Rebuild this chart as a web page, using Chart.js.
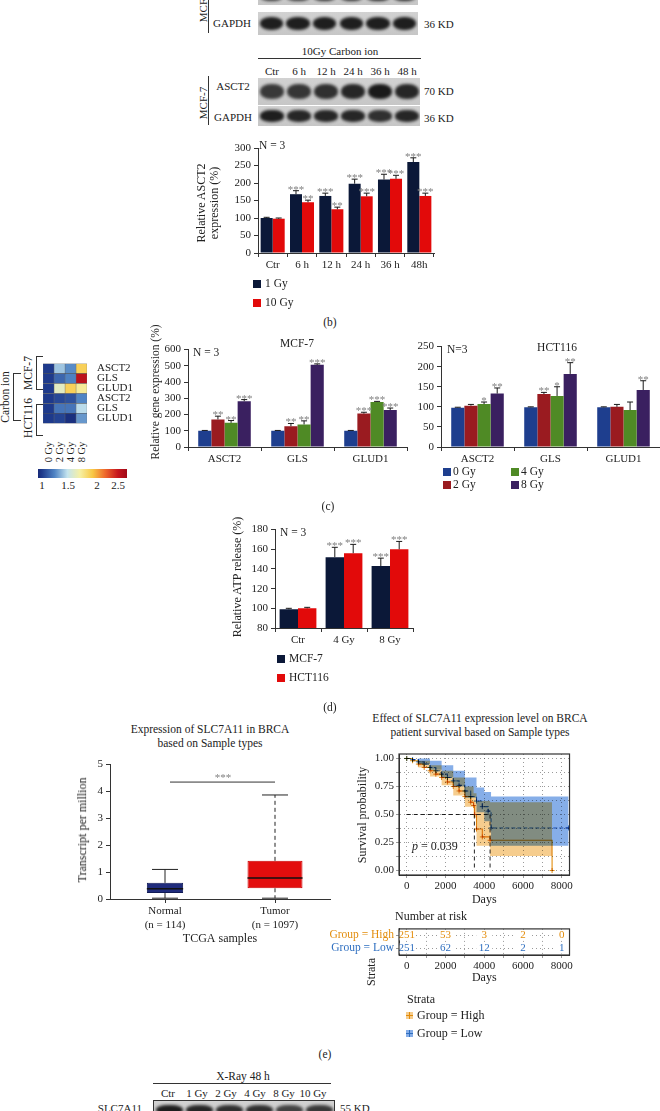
<!DOCTYPE html>
<html>
<head>
<meta charset="utf-8">
<title>Figure</title>
<script src="https://cdn.jsdelivr.net/npm/chart.js@4.4.1/dist/chart.umd.min.js"></script>
<style>
  html, body { margin: 0; padding: 0; background: #fff; }
  body { position: relative; width: 660px; height: 1111px; overflow: hidden;
         font-family: "Liberation Serif", "DejaVu Serif", serif; color: #222; }
  canvas { position: absolute; }
  .t { position: absolute; white-space: nowrap; font-size: 11px; line-height: 1.15; text-align: center; }
  .ln { position: absolute; background: #333; }
  .sq { position: absolute; width: 8px; height: 8px; }
  .strip { position: absolute; background: linear-gradient(#d2d2d2, #c6c6c6); overflow: hidden; }
  .band { position: absolute; background: #151515; border-radius: 45%; filter: blur(1.5px); }
</style>
</head>
<body>
<canvas id="asctChart" width="244" height="145" style="left:196px;top:130px"></canvas>
<canvas id="heatChart" width="94" height="93" style="left:43px;top:347px"></canvas>
<canvas id="mcfChart" width="261" height="127" style="left:149px;top:340px"></canvas>
<canvas id="hctChart" width="249" height="130" style="left:411px;top:337px"></canvas>
<canvas id="atpChart" width="185" height="130" style="left:231px;top:520px"></canvas>
<canvas id="boxChart" width="259" height="195" style="left:76px;top:755px"></canvas>
<canvas id="survChart" width="219" height="166" style="left:356px;top:745px"></canvas>
<canvas id="riskChart" width="257" height="69" style="left:318px;top:920px"></canvas>
<script>
// ---------- data ----------
const timeLabels = ['Ctr', '6 h', '12 h', '24 h', '36 h', '48h'];
const asct1Gy = [100, 168, 163, 198, 210, 260];
const asct1GyErr = [2, 10, 8, 13, 15, 12];
const asct1GyStars = ['', '***', '***', '***', '***', '***'];
const asct10Gy = [98, 145, 125, 162, 212, 163];
const asct10GyErr = [2, 6, 6, 9, 10, 8];
const asct10GyStars = ['', '**', '**', '***', '***', '***'];

const geneLabels = ['ASCT2', 'GLS', 'GLUD1'];
const doseLabels = ['0 Gy', '2 Gy', '4 Gy', '8 Gy'];
const mcf0Gy = [100, 100, 100], mcf0GyErr = [2, 2, 2], mcf0GyStars = ['', '', ''];
const mcf2Gy = [170, 128, 206], mcf2GyErr = [20, 17, 8], mcf2GyStars = ['**', '**', '***'];
const mcf4Gy = [149, 139, 277], mcf4GyErr = [14, 22, 4], mcf4GyStars = ['**', '**', '***'];
const mcf8Gy = [282, 506, 228], mcf8GyErr = [10, 6, 12], mcf8GyStars = ['***', '***', '***'];
const hct0Gy = [98, 99, 99], hct0GyErr = [1, 1, 1], hct0GyStars = ['', '', ''];
const hct2Gy = [103, 132, 100], hct2GyErr = [3, 4, 6], hct2GyStars = ['', '**', ''];
const hct4Gy = [107, 127, 92], hct4GyErr = [5, 23, 20], hct4GyStars = ['*', '*', ''];
const hct8Gy = [133, 182, 142], hct8GyErr = [14, 28, 23], hct8GyStars = ['**', '**', '**'];

const heatRows = ['ASCT2', 'GLS', 'GLUD1', 'ASCT2', 'GLS', 'GLUD1'];
const heatCols = ['0 Gy', '2 Gy', '4 Gy', '8 Gy'];
const heatValues = [
  [1.0, 1.42, 1.27, 1.95],
  [1.0, 1.15, 1.24, 2.55],
  [1.0, 1.65, 1.95, 1.78],
  [1.0, 1.05, 1.08, 1.25],
  [1.0, 1.20, 1.20, 1.48],
  [1.0, 1.03, 0.95, 1.30]
];
const heatTicks = ['1', '1.5', '2', '2.5'];

const atpLabels = ['Ctr', '4 Gy', '8 Gy'];
const atpMcf = [99, 152, 143], atpMcfErr = [1, 10, 8], atpMcfStars = ['', '***', '***'];
const atpHct = [100, 156, 160], atpHctErr = [1, 9, 8], atpHctStars = ['', '***', '***'];

const boxGroups = [['Normal', '(n = 114)'], ['Tumor', '(n = 1097)']];
const boxMin = [0.03, 0.03];
const boxQ1 = [0.22, 0.40];
const boxMedian = [0.38, 0.78];
const boxQ3 = [0.60, 1.42];
const boxMax = [1.10, 3.87];
const boxSigLevel = 4.35;

const highDays = [0, 300, 600, 900, 1200, 1500, 1800, 2100, 2400, 2700, 3000, 3300, 3450, 3500, 3600, 3900, 4300, 7500];
const highSurv = [1.00, 0.98, 0.95, 0.92, 0.89, 0.86, 0.83, 0.79, 0.75, 0.71, 0.66, 0.61, 0.58, 0.50, 0.37, 0.30, 0.27, 0.00];
const highBandDays = [0, 600, 1200, 1800, 2400, 3000, 3450, 3600, 4300, 7500];
const highUpper = [1.00, 0.98, 0.94, 0.89, 0.83, 0.75, 0.69, 0.62, 0.61, 0.61];
const highLower = [1.00, 0.92, 0.84, 0.76, 0.67, 0.57, 0.47, 0.22, 0.13, 0.13];
const lowDays = [0, 300, 600, 900, 1200, 1500, 1800, 2100, 2400, 2700, 3000, 3300, 3600, 3900, 4200, 4350, 8350];
const lowSurv = [1.00, 0.99, 0.97, 0.95, 0.92, 0.89, 0.86, 0.83, 0.80, 0.76, 0.71, 0.66, 0.62, 0.57, 0.53, 0.38, 0.38];
const lowBandDays = [0, 600, 1200, 1800, 2400, 3000, 3600, 4000, 4350, 8350];
const lowUpper = [1.00, 1.00, 0.98, 0.94, 0.89, 0.83, 0.74, 0.70, 0.66, 0.66];
const lowLower = [1.00, 0.95, 0.90, 0.83, 0.75, 0.65, 0.52, 0.44, 0.22, 0.22];
const medianHigh = 3490, medianLow = 4300;
const survGridX = [0, 1000, 2000, 3000, 4000, 5000, 6000, 7000, 8000];
const survGridY = [0, 0.125, 0.25, 0.375, 0.5, 0.625, 0.75, 0.875, 1];

const riskGroups = ['Group = High', 'Group = Low'];
const riskDays = [0, 2000, 4000, 6000, 8000];
const riskHigh = [251, 53, 3, 2, 0];
const riskLow = [251, 62, 12, 2, 1];

// ---------- styles ----------
const navy = '#0b1838', red = '#e20a0a';
const doseColors = ['#1e3e8e', '#9a1b20', '#4f8a25', '#3a2060'];
const highColor = '#e38d0c', lowColor = '#2f6fc0';
const groupColors = [highColor, lowColor];
const heatStops = [
  [0.92, [24, 42, 120]], [1.0, [30, 58, 140]], [1.25, [80, 132, 196]], [1.5, [196, 228, 238]],
  [1.75, [246, 240, 164]], [2.0, [248, 200, 70]], [2.25, [238, 104, 44]], [2.5, [198, 22, 30]], [2.68, [160, 10, 24]]
];

Chart.defaults.font.family = '"Liberation Serif", "DejaVu Serif", serif';
Chart.defaults.font.size = 11;
Chart.defaults.color = '#222';
Chart.defaults.animation = false;
Chart.defaults.responsive = false;
Chart.defaults.devicePixelRatio = 1;
Chart.defaults.plugins.legend.display = false;
Chart.defaults.plugins.tooltip.enabled = false;

function heatColor(v) {
  for (let i = 1; i < heatStops.length; i++) {
    const [v0, c0] = heatStops[i - 1], [v1, c1] = heatStops[i];
    if (v <= v1 || i === heatStops.length - 1) {
      const t = Math.max(0, Math.min(1, (v - v0) / (v1 - v0)));
      return 'rgb(' + c0.map((c, k) => Math.round(c + (c1[k] - c) * t)).join(',') + ')';
    }
  }
}

// error bars + significance stars on top of bars
const errorBars = {
  id: 'errorBars',
  afterDatasetsDraw(chart) {
    const ctx = chart.ctx, y = chart.scales.y;
    chart.data.datasets.forEach((ds, i) => {
      if (!ds.errors) return;
      chart.getDatasetMeta(i).data.forEach((bar, j) => {
        const top = y.getPixelForValue(ds.data[j] + ds.errors[j]);
        ctx.save();
        ctx.strokeStyle = '#1a1a1a';
        ctx.lineWidth = 1;
        ctx.beginPath();
        ctx.moveTo(bar.x, bar.y);
        ctx.lineTo(bar.x, top);
        ctx.moveTo(bar.x - 3, top);
        ctx.lineTo(bar.x + 3, top);
        ctx.stroke();
        if (ds.stars && ds.stars[j]) {
          ctx.fillStyle = '#808080';
          ctx.font = '11px "Liberation Serif"';
          ctx.textAlign = 'center';
          ctx.textBaseline = 'alphabetic';
          ctx.fillText(ds.stars[j], bar.x, top + 2);
        }
        ctx.restore();
      });
    });
  }
};

function barChart(id, labels, sets, o) {
  return new Chart(document.getElementById(id), {
    type: 'bar',
    data: {
      labels: labels,
      datasets: sets.map(s => ({
        data: s.data, errors: s.errors, stars: s.stars,
        backgroundColor: s.color, borderWidth: 0,
        categoryPercentage: o.catPct, barPercentage: 1
      }))
    },
    options: {
      layout: { padding: { top: o.padTop, right: o.padRight, left: 0, bottom: 0 } },
      scales: {
        x: {
          ticks: { padding: 2, font: { size: 11 } },
          grid: { drawOnChartArea: false, tickLength: 4, color: '#333' },
          border: { color: '#333' },
          afterFit: s => { s.height = o.xHeight; }
        },
        y: {
          min: o.min, max: o.max,
          ticks: { stepSize: o.step, padding: 3, font: { size: 11 } },
          grid: { drawOnChartArea: false, tickLength: 4, color: '#333' },
          border: { color: '#333' },
          afterFit: s => { s.width = o.yWidth; }
        }
      }
    },
    plugins: [errorBars]
  });
}

// (b) ASCT2 time course
barChart('asctChart', timeLabels, [
  { data: asct1Gy, errors: asct1GyErr, stars: asct1GyStars, color: navy },
  { data: asct10Gy, errors: asct10GyErr, stars: asct10GyStars, color: red }
], { catPct: 0.82, padTop: 18, padRight: 6, xHeight: 22, min: 0, max: 300, step: 50, yWidth: 62 });

// (c) MCF-7 and HCT116
barChart('mcfChart', geneLabels, [
  { data: mcf0Gy, errors: mcf0GyErr, stars: mcf0GyStars, color: doseColors[0] },
  { data: mcf2Gy, errors: mcf2GyErr, stars: mcf2GyStars, color: doseColors[1] },
  { data: mcf4Gy, errors: mcf4GyErr, stars: mcf4GyStars, color: doseColors[2] },
  { data: mcf8Gy, errors: mcf8GyErr, stars: mcf8GyStars, color: doseColors[3] }
], { catPct: 0.72, padTop: 9, padRight: 3, xHeight: 20, min: 0, max: 600, step: 100, yWidth: 39 });

barChart('hctChart', geneLabels, [
  { data: hct0Gy, errors: hct0GyErr, stars: hct0GyStars, color: doseColors[0] },
  { data: hct2Gy, errors: hct2GyErr, stars: hct2GyStars, color: doseColors[1] },
  { data: hct4Gy, errors: hct4GyErr, stars: hct4GyStars, color: doseColors[2] },
  { data: hct8Gy, errors: hct8GyErr, stars: hct8GyStars, color: doseColors[3] }
], { catPct: 0.72, padTop: 9, padRight: 0, xHeight: 20, min: 0, max: 250, step: 50, yWidth: 30 });

// (d) ATP release
barChart('atpChart', atpLabels, [
  { data: atpMcf, errors: atpMcfErr, stars: atpMcfStars, color: navy },
  { data: atpHct, errors: atpHctErr, stars: atpHctStars, color: red }
], { catPct: 0.8, padTop: 7, padRight: 3, xHeight: 22, min: 80, max: 180, step: 20, yWidth: 44 });

// heatmap as stacked horizontal bars, one segment per cell
new Chart(document.getElementById('heatChart'), {
  type: 'bar',
  data: {
    labels: heatRows,
    datasets: heatCols.map((c, j) => ({
      label: c,
      data: heatRows.map(() => 1),
      backgroundColor: heatValues.map(row => heatColor(row[j])),
      borderColor: '#555', borderWidth: 0.5, borderSkipped: false,
      barPercentage: 1, categoryPercentage: 1
    }))
  },
  options: {
    indexAxis: 'y',
    scales: {
      x: { stacked: true, display: false, min: 0, max: heatCols.length },
      y: {
        stacked: true, position: 'right',
        grid: { display: false, drawTicks: false }, border: { display: false },
        ticks: { autoSkip: false, padding: 10, font: { size: 11 } },
        afterFit: s => { s.width = 50; }
      }
    }
  }
});

// box plot: floating bars for the boxes, whiskers/medians from the scales
const boxExtras = {
  id: 'boxExtras',
  afterDatasetsDraw(chart) {
    const { ctx, scales: { x, y } } = chart;
    ctx.save();
    boxGroups.forEach((g, i) => {
      const cx = x.getPixelForValue(i);
      ctx.strokeStyle = '#222';
      ctx.lineWidth = 1;
      ctx.setLineDash(i === 0 ? [] : [4, 3]);
      ctx.beginPath();
      ctx.moveTo(cx, y.getPixelForValue(boxQ3[i])); ctx.lineTo(cx, y.getPixelForValue(boxMax[i]));
      ctx.moveTo(cx, y.getPixelForValue(boxQ1[i])); ctx.lineTo(cx, y.getPixelForValue(boxMin[i]));
      ctx.stroke();
      ctx.setLineDash([]);
      ctx.beginPath();
      [boxMax[i], boxMin[i]].forEach(v => {
        ctx.moveTo(cx - 13, y.getPixelForValue(v)); ctx.lineTo(cx + 13, y.getPixelForValue(v));
      });
      ctx.stroke();
      const bar = chart.getDatasetMeta(i).data[i];
      ctx.lineWidth = 1.5;
      ctx.strokeStyle = '#111';
      ctx.beginPath();
      ctx.moveTo(bar.x - bar.width / 2, y.getPixelForValue(boxMedian[i]));
      ctx.lineTo(bar.x + bar.width / 2, y.getPixelForValue(boxMedian[i]));
      ctx.stroke();
    });
    const sy = y.getPixelForValue(boxSigLevel);
    ctx.lineWidth = 1;
    ctx.strokeStyle = '#333';
    ctx.beginPath();
    ctx.moveTo(x.getPixelForValue(0) + 5, sy); ctx.lineTo(x.getPixelForValue(1), sy);
    ctx.stroke();
    ctx.fillStyle = '#808080';
    ctx.font = '11px "Liberation Serif"';
    ctx.textAlign = 'center';
    ctx.fillText('***', (x.getPixelForValue(0) + x.getPixelForValue(1)) / 2 + 3, sy - 1);
    ctx.restore();
  }
};

new Chart(document.getElementById('boxChart'), {
  type: 'bar',
  data: {
    labels: boxGroups,
    datasets: boxGroups.map((g, i) => ({
      data: boxGroups.map((h, j) => (j === i ? [boxQ1[i], boxQ3[i]] : null)),
      backgroundColor: i === 0 ? '#1f2b7c' : '#e30d0d',
      borderColor: i === 0 ? '#101a55' : '#c00',
      borderWidth: 1, borderSkipped: false,
      barPercentage: i === 0 ? 0.33 : 0.5, categoryPercentage: 1, grouped: false
    }))
  },
  options: {
    layout: { padding: { top: 9, right: 5, left: 0, bottom: 0 } },
    scales: {
      x: {
        ticks: { padding: 2, font: { size: 11 } },
        grid: { drawOnChartArea: false, offset: false, tickLength: 4, color: '#333' },
        border: { color: '#333' },
        title: { display: true, text: 'TCGA samples', font: { size: 12 }, padding: { top: 0, bottom: 4 } },
        afterFit: s => { s.height = 51; }
      },
      y: {
        min: 0, max: 5,
        ticks: { stepSize: 1, padding: 3, font: { size: 11 } },
        grid: { drawOnChartArea: false, tickLength: 4, color: '#333' },
        border: { color: '#333' },
        afterFit: s => { s.width = 34; }
      }
    }
  },
  plugins: [boxExtras]
});

// survival curves
const pts = (xs, ys) => xs.map((d, i) => ({ x: d, y: ys[i] }));
const frame = {
  id: 'frame',
  afterDraw(chart) {
    const { ctx, chartArea: a } = chart;
    ctx.save();
    ctx.strokeStyle = '#333';
    ctx.lineWidth = 1.2;
    ctx.strokeRect(a.left, a.top, a.right - a.left, a.bottom - a.top);
    ctx.restore();
  }
};
const multiplyBlend = {
  id: 'multiplyBlend',
  beforeDraw(chart) {
    const c = chart.ctx;
    c.save();
    c.fillStyle = '#fff';
    c.fillRect(0, 0, chart.width, chart.height);
    c.globalCompositeOperation = 'multiply';
  },
  afterDraw(chart) { chart.ctx.restore(); }
};
function curve(data, color, dash) {
  return { data, showLine: true, stepped: true, borderColor: color, borderWidth: 1.1, borderDash: dash,
           pointStyle: 'cross', pointRadius: 2.5, pointBorderColor: color, pointBorderWidth: 1, fill: false };
}
function band(data, color, fill) {
  return { data, showLine: true, stepped: true, borderWidth: 0, pointRadius: 0, backgroundColor: color, fill };
}
function dashLine(data) {
  return { data, showLine: true, borderColor: '#222', borderWidth: 1, borderDash: [4, 3], pointRadius: 0, fill: false };
}
const survAxis = (grid, isLabel, fmt, size) => ({
  afterBuildTicks: s => { s.ticks = grid.map(v => ({ value: v })); },
  ticks: { autoSkip: false, maxRotation: 0, padding: 2, font: { size: 11 },
           callback: v => (isLabel(v) ? fmt(v) : '') },
  grid: { color: '#9a9a9a', tickLength: 3 },
  border: { color: '#333', dash: [1, 3] },
  afterFit: s => { s[size[0]] = size[1]; }
});

new Chart(document.getElementById('survChart'), {
  type: 'scatter',
  data: {
    datasets: [
      curve(pts(highDays, highSurv), highColor, []),
      curve(pts(lowDays, lowSurv), lowColor, [4, 2]),
      dashLine([{ x: 0, y: 0.5 }, { x: medianLow, y: 0.5 }]),
      dashLine([{ x: medianHigh, y: 0.5 }, { x: medianHigh, y: 0 }]),
      dashLine([{ x: medianLow, y: 0.5 }, { x: medianLow, y: 0 }]),
      band(pts(highBandDays, highUpper), '#f6cd8e', '+1'),
      band(pts(highBandDays, highLower), '#f6cd8e', false),
      band(pts(lowBandDays, lowUpper), '#86aee8', '+1'),
      band(pts(lowBandDays, lowLower), '#86aee8', false)
    ]
  },
  options: {
    layout: { padding: { top: 9, right: 5, left: 0, bottom: 0 } },
    scales: {
      x: Object.assign(survAxis(survGridX, v => v % 2000 === 0, v => String(v), ['height', 36]), {
        type: 'linear', min: -400, max: 8400,
        title: { display: true, text: 'Days', font: { size: 12 }, padding: { top: 0, bottom: 4 } }
      }),
      y: Object.assign(survAxis(survGridY, v => Math.abs(v * 4 - Math.round(v * 4)) < 1e-9, v => v.toFixed(2), ['width', 43]), {
        min: -0.04, max: 1.04
      })
    }
  },
  plugins: [multiplyBlend, frame]
});

// number at risk table
const riskText = {
  id: 'riskText',
  afterDatasetsDraw(chart) {
    const { ctx, scales: { x, y } } = chart;
    ctx.save();
    ctx.font = '11px "Liberation Serif"';
    ctx.textAlign = 'center';
    ctx.textBaseline = 'middle';
    [riskHigh, riskLow].forEach((row, r) => {
      row.forEach((n, i) => {
        const px = x.getPixelForValue(riskDays[i]), py = y.getPixelForValue(r);
        ctx.fillStyle = '#fff';
        ctx.fillRect(px - 8, py - 5, 16, 10);
        ctx.fillStyle = groupColors[r];
        ctx.fillText(String(n), px, py);
      });
    });
    ctx.restore();
  }
};
new Chart(document.getElementById('riskChart'), {
  type: 'scatter',
  data: {
    datasets: riskGroups.map((g, r) => ({
      data: riskDays.map(d => ({ x: d, y: g })), pointRadius: 0
    }))
  },
  options: {
    layout: { padding: { top: 5, right: 5, left: 0, bottom: 0 } },
    scales: {
      x: Object.assign(survAxis(survGridX, v => v % 2000 === 0, v => String(v), ['height', 34]), {
        type: 'linear', min: -400, max: 8400,
        title: { display: true, text: 'Days', font: { size: 12 }, padding: { top: 0, bottom: 4 } }
      }),
      y: {
        type: 'category', labels: riskGroups, offset: true,
        ticks: { autoSkip: false, padding: 2, font: { size: 11.5 }, color: c => groupColors[c.index] },
        grid: { color: '#9a9a9a', tickLength: 3 },
        border: { color: '#333', dash: [1, 3] },
        afterFit: s => { s.width = 81; }
      }
    }
  },
  plugins: [riskText, frame]
});

// ---------- text, blots and other decorations ----------
function txt(html, x, y, o) {
  o = o || {};
  const d = document.createElement('div');
  d.className = 't';
  d.innerHTML = html;
  d.style.left = x + 'px';
  d.style.top = y + 'px';
  const ax = o.align === 'left' ? '0' : o.align === 'right' ? '-100%' : '-50%';
  d.style.transform = 'translate(' + ax + ', -50%)' + (o.rot ? ' rotate(' + o.rot + 'deg)' : '');
  if (o.size) d.style.fontSize = o.size + 'px';
  if (o.color) d.style.color = o.color;
  if (o.lh) d.style.lineHeight = o.lh;
  document.body.appendChild(d);
  return d;
}
function box(cls, x, y, w, h, bg) {
  const d = document.createElement('div');
  d.className = cls;
  Object.assign(d.style, { left: x + 'px', top: y + 'px', width: w + 'px', height: h + 'px' });
  if (bg) d.style.background = bg;
  document.body.appendChild(d);
  return d;
}
const hline = (x1, x2, y) => box('ln', x1, y, x2 - x1, 1);
const vline = (x, y1, y2) => box('ln', x, y1, 1, y2 - y1);
function blot(x, y, w, h, bands, outline) {
  const s = box('strip', x, y, w, h);
  if (outline) s.style.border = '1px solid #333';
  const bw = w / bands.length;
  bands.forEach((d, i) => {
    const b = document.createElement('div');
    b.className = 'band';
    Object.assign(b.style, { left: (i * bw + 1.5) + 'px', width: (bw - 3) + 'px',
      top: (h * 0.22) + 'px', height: (h * 0.56) + 'px', opacity: d });
    s.appendChild(b);
  });
}

// top blot fragment
blot(258, -12, 160, 17, [0.8, 0.8, 0.85, 0.85, 0.9, 0.9]);
blot(258, 12, 160, 23, [0.95, 0.95, 0.95, 0.95, 0.95, 0.95]);
txt('MCF-7', 203, 6, { rot: -90 });
vline(208, 0, 33);
txt('GAPDH', 232, 23);
txt('36 KD', 424, 24, { align: 'left' });

// second blot
txt('10Gy Carbon ion', 340, 51);
hline(258, 421, 58);
timeLabels.forEach((l, i) => txt(l.replace('48h', '48 h'), 272 + i * 27, 71));
blot(258, 78, 162, 27, [0.8, 0.82, 0.85, 0.9, 0.97, 0.9]);
blot(258, 106, 162, 20, [0.95, 0.9, 0.9, 0.9, 0.85, 0.9]);
txt('ASCT2', 233, 86);
txt('GAPDH', 233, 117);
txt('MCF-7', 203, 103, { rot: -90 });
vline(208, 76, 125);
txt('70 KD', 424, 91, { align: 'left' });
txt('36 KD', 424, 118, { align: 'left' });

// (b)
txt('Relative ASCT2<br>expression (%)', 208, 203, { rot: -90, size: 12, lh: 1.05 });
txt('N = 3', 259, 146, { align: 'left', size: 11.5 });
box('sq', 253, 280, 8, 8, navy); txt('1 Gy', 265, 284, { align: 'left', size: 11.5 });
box('sq', 253, 299, 8, 8, red); txt('10 Gy', 265, 303, { align: 'left', size: 11.5 });
txt('(b)', 330, 323, { size: 11.5 });

// (c) heatmap decorations
heatCols.forEach((c, j) => txt(c, 48.5 + j * 11, 452, { rot: -90, size: 10.5 }));
vline(36, 356, 390); hline(36, 43, 356); hline(36, 43, 389);
vline(36, 404, 436); hline(36, 43, 404); hline(36, 43, 435);
vline(13, 373, 421); hline(13, 21, 373); hline(13, 21, 420);
txt('Carbon ion', 6, 397, { rot: -90, size: 11.5 });
txt('MCF-7', 29, 373, { rot: -90, size: 11.5 });
txt('HCT116', 29, 418, { rot: -90, size: 11.5 });
const grad = 'linear-gradient(to right,' + heatStops.map(([v, c]) =>
  'rgb(' + c.join(',') + ') ' + ((v - 0.92) / 1.76 * 100).toFixed(1) + '%').join(',') + ')';
box('sq', 38, 469, 89, 9, grad);
[42, 68, 97, 118].forEach((x, i) => txt(heatTicks[i], x, 485, { size: 11 }));

txt('Relative gene expression (%)', 156, 392, { rot: -90, size: 11.5 });
txt('MCF-7', 297, 344, { size: 11.5 });
txt('N = 3', 193, 353, { align: 'left', size: 11.5 });
txt('HCT116', 557, 348, { size: 11.5 });
txt('N=3', 447, 350, { align: 'left', size: 11.5 });
[[443, 468], [443, 481], [511, 468], [511, 481]].forEach(([x, y], i) => {
  box('sq', x, y, 8, 8, doseColors[i]);
  txt(doseLabels[i], x + 10, y + 4, { align: 'left', size: 11.5 });
});
txt('(c)', 328, 507, { size: 11.5 });

// (d)
txt('Relative ATP release (%)', 238, 577, { rot: -90, size: 12 });
txt('N = 3', 280, 533, { align: 'left', size: 11.5 });
box('sq', 277, 655, 8, 8, navy); txt('MCF-7', 289, 659, { align: 'left', size: 11.5 });
box('sq', 277, 674, 8, 8, red); txt('HCT116', 289, 678, { align: 'left', size: 11.5 });
txt('(d)', 330, 708, { size: 11.5 });

// (e)
txt('Expression of SLC7A11 in BRCA<br>based on Sample types', 210, 737, { size: 11.5, lh: 1.2 });
txt('Transcript per million', 83, 830, { rot: -90, size: 12 });
txt('Effect of SLC7A11 expression level on BRCA<br>patient survival based on Sample types', 480, 726, { size: 11.5, lh: 1.2 });
txt('Survival probability', 363, 815, { rot: -90, size: 12 });
txt('<i>p</i> = 0.039', 412, 847, { align: 'left', size: 12 });
txt('Number at risk', 395, 917, { align: 'left', size: 12 });
txt('Strata', 372, 972, { rot: -90, size: 12 });
txt('Strata', 407, 1000, { align: 'left', size: 12 });
[[1016, '#f6cd8e', highColor, 'Group = High'], [1034, '#86aee8', lowColor, 'Group = Low']].forEach(([y, bg, fg, l]) => {
  const m = box('sq', 406, y - 4, 7, 7, bg);
  m.innerHTML = '<div style="position:absolute;left:3px;top:0;width:1px;height:7px;background:' + fg +
    '"></div><div style="position:absolute;left:0;top:3px;width:7px;height:1px;background:' + fg + '"></div>';
  txt(l, 417, y, { align: 'left', size: 12 });
});
txt('(e)', 325, 1055, { size: 11.5 });

// bottom blot
txt('X-Ray 48 h', 243, 1077, { size: 11.5 });
hline(153, 331, 1083);
['Ctr', '1 Gy', '2 Gy', '4 Gy', '8 Gy', '10 Gy'].forEach((l, i) => txt(l, 168 + i * 29, 1093, { size: 11 }));
blot(153, 1100, 180, 18, [0.95, 0.9, 0.85, 0.85, 0.75, 0.8], true);
txt('SLC7A11', 142, 1108, { align: 'right', size: 11 });
txt('55 KD', 340, 1108, { align: 'left', size: 11 });
</script>
</body>
</html>
